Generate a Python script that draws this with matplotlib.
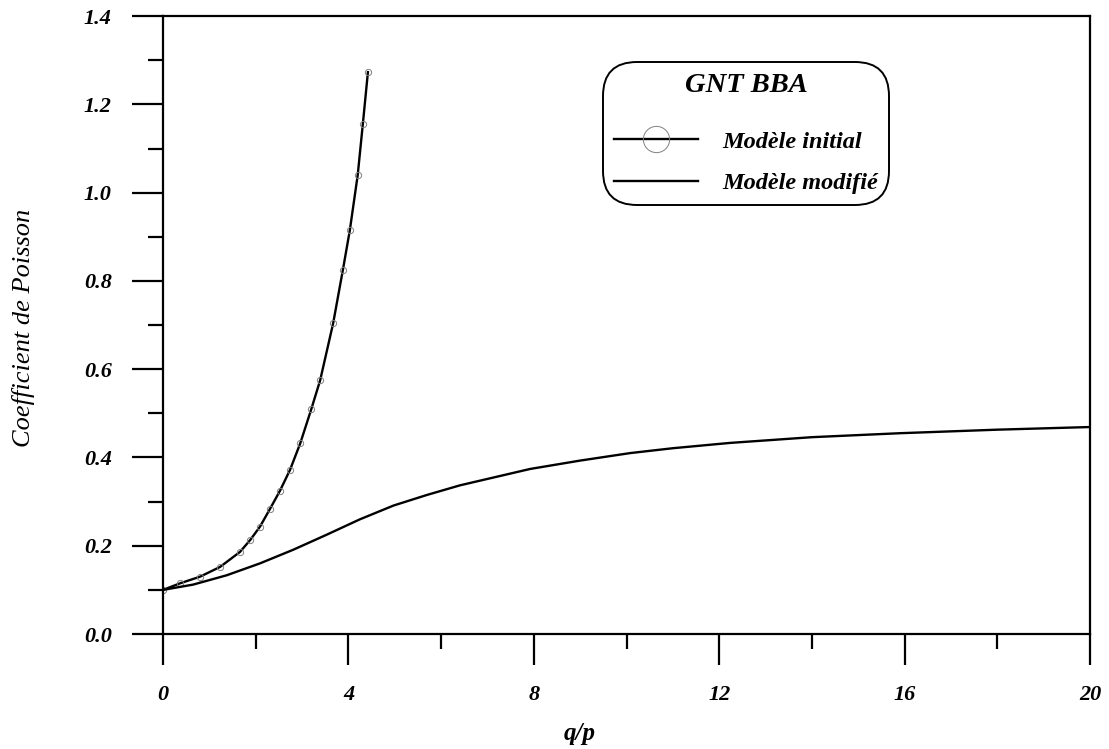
import matplotlib
matplotlib.use("Agg")
import matplotlib.pyplot as plt

# q/p values and Poisson coefficient
x_initial = [0.0, 0.37, 0.80, 1.23, 1.66, 1.88, 2.09, 2.31, 2.52, 2.74, 2.96, 3.2, 3.39,
             3.67, 3.88, 4.03, 4.2, 4.31, 4.42]
y_initial = [0.10, 0.115, 0.130, 0.152, 0.186, 0.213, 0.243, 0.284, 0.324, 0.372, 0.432, 0.51,
             0.575, 0.704, 0.825, 0.915, 1.04, 1.155, 1.273]

x_modified = [0.0, 0.65, 1.37, 2.09, 2.81, 3.53, 4.25, 4.97, 5.69, 6.41, 7.92, 9.0, 10.08,
              11.0, 12.23, 14.0, 15.9, 18.0, 20.0]
y_modified = [0.10, 0.112, 0.133, 0.160, 0.191, 0.225, 0.260, 0.291, 0.315, 0.337, 0.374, 0.393,
              0.41, 0.421, 0.433, 0.446, 0.455, 0.463, 0.469]

x_ticks = [0, 4, 8, 12, 16, 20]
y_ticks = [0.0, 0.2, 0.4, 0.6, 0.8, 1.0, 1.2, 1.4]

serif = "Liberation Serif"

fig = plt.figure(figsize=(11.09, 7.49), dpi=100)
ax = fig.add_axes([0.147, 0.1535, 0.836, 0.825])

ax.plot(x_initial, y_initial, color="black", lw=1.7, marker="o", ms=4.5,
        mfc="none", mec="#808080", mew=0.7, label="Modèle initial")
ax.plot(x_modified, y_modified, color="black", lw=1.7, label="Modèle modifié")

ax.set_xlim(0, 20)
ax.set_ylim(0, 1.4)
ax.set_xticks(x_ticks)
ax.set_xticks([2, 6, 10, 14, 18], minor=True)
ax.set_yticks(y_ticks)
ax.set_yticks([0.1, 0.3, 0.5, 0.7, 0.9, 1.1, 1.3], minor=True)
ax.set_xticklabels([str(v) for v in x_ticks])
ax.set_yticklabels([f"{v:.1f}" for v in y_ticks])

ax.tick_params(which="major", direction="out", length=22, width=1.6, pad=15)
ax.tick_params(which="minor", direction="out", length=11, width=1.6)
for lab in ax.get_xticklabels() + ax.get_yticklabels():
    lab.set_fontfamily(serif)
    lab.set_fontweight("bold")
    lab.set_fontstyle("italic")
    lab.set_fontsize(16)
for sp in ax.spines.values():
    sp.set_linewidth(1.6)

fig.text(0.523, 0.006, "q/p", family=serif, weight="bold", style="italic",
         fontsize=18, ha="center", va="bottom")
fig.text(0.021, 0.562, "Coefficient de Poisson", family=serif, style="italic",
         fontsize=19, rotation=90, ha="center", va="center")

# legend box sits at about x 603-893 px, y 62-213 px in the original
leg = ax.legend(loc="upper left", bbox_to_anchor=(0.4616, 0.946), title="GNT BBA",
                prop={"family": serif, "weight": "bold", "style": "italic", "size": 17.5},
                title_fontproperties={"family": serif, "weight": "bold", "style": "italic", "size": 20.5},
                markerscale=4.2, handlelength=3.45, handletextpad=1.0, labelspacing=0.8,
                borderpad=0.45, fancybox=True, framealpha=1, edgecolor="black")
leg.get_frame().set_linewidth(1.4)
leg.get_frame().set_boxstyle("round,pad=0,rounding_size=1.4")
leg._legend_box.sep = 24

fig.savefig("out.png", dpi=100)
